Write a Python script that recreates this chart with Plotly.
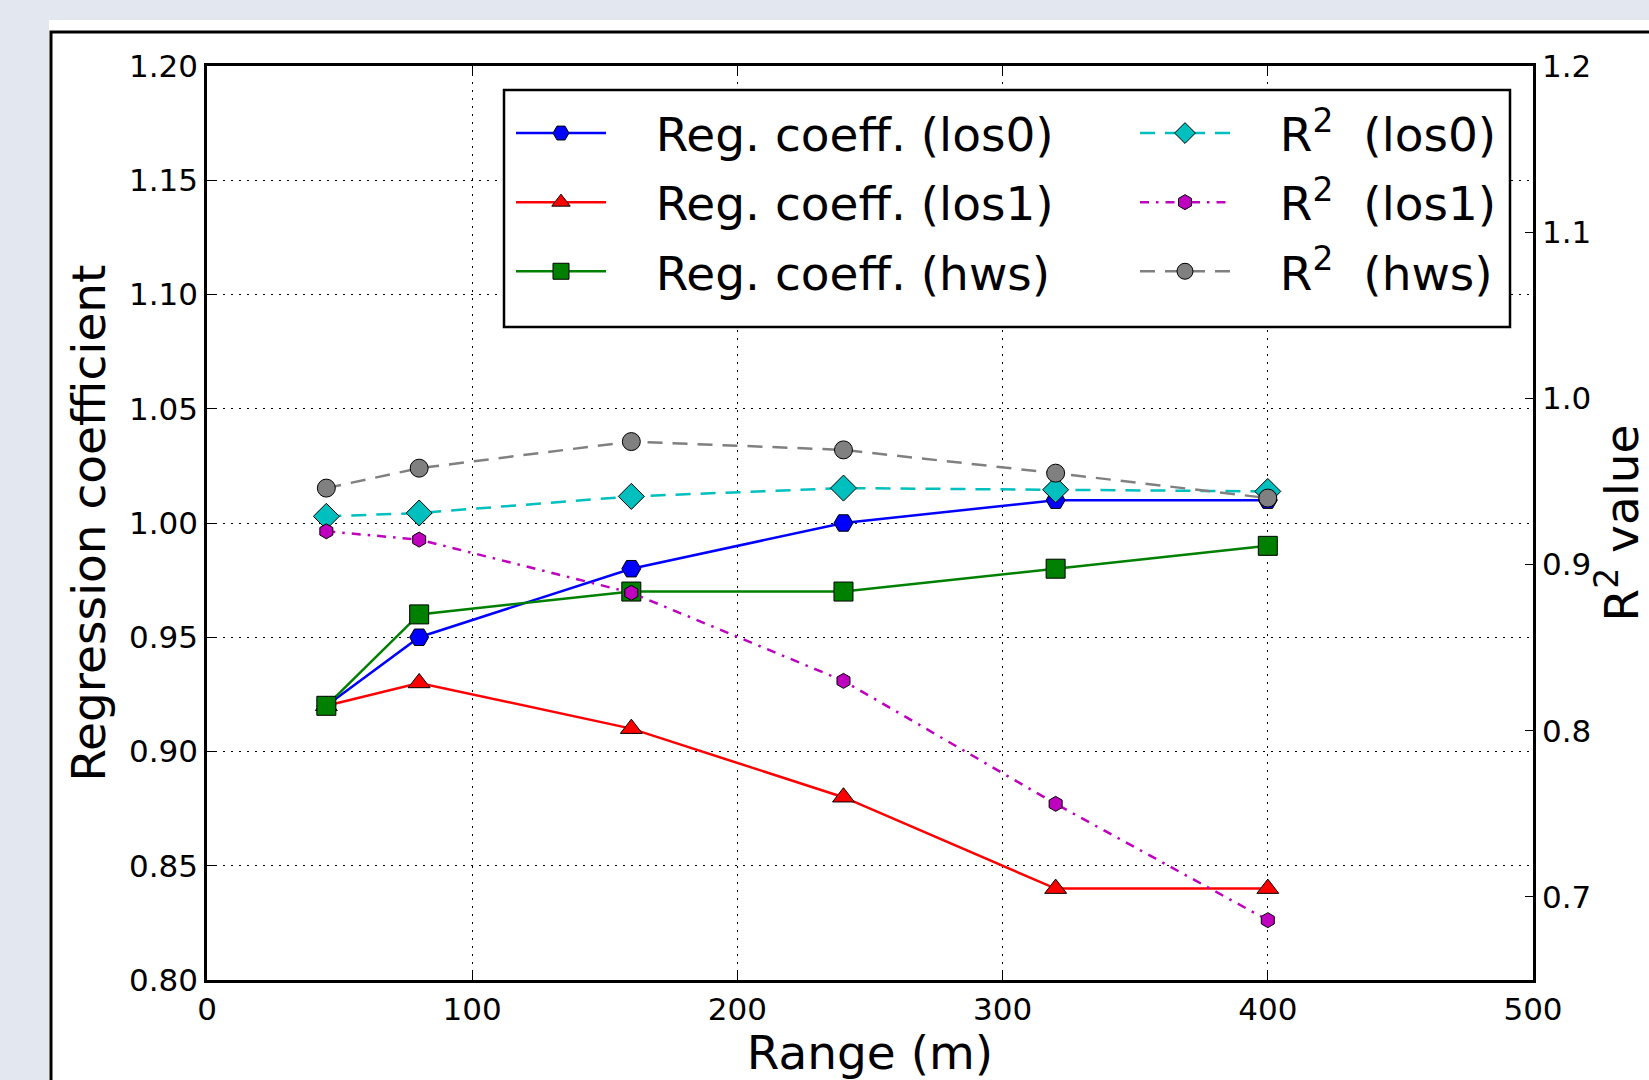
import plotly.graph_objects as go

# ---- data ----
ranges = [45, 80, 160, 240, 320, 400]
reg_los0 = [0.92, 0.95, 0.98, 1.00, 1.01, 1.01]
reg_los1 = [0.92, 0.93, 0.91, 0.88, 0.84, 0.84]
reg_hws = [0.92, 0.96, 0.97, 0.97, 0.98, 0.99]
r2_los0 = [0.929, 0.931, 0.941, 0.946, 0.945, 0.944]
r2_los1 = [0.920, 0.915, 0.883, 0.830, 0.756, 0.686]
r2_hws = [0.946, 0.958, 0.974, 0.969, 0.955, 0.940]

FONT = "DejaVu Sans"
W, H = 1649, 1080
L, R, T, B = 207, 116, 66, 100
PW, PH = W - L - R, H - T - B


def px(x):
    return (x - L) / PW


def py(y):
    return (H - B - y) / PH


fig = go.Figure()

mk = dict(line=dict(color="black", width=1))
pad = "\u00a0\u00a0\u00a0"

fig.add_trace(go.Scatter(x=ranges, y=reg_los0, name=pad + "Reg. coeff. (los0)", mode="lines+markers",
                         line=dict(color="#0000FF", width=2.5),
                         marker=dict(symbol="hexagon2", size=19, color="#0000FF", **mk),
                         legend="legend", legendgroup="a"))
fig.add_trace(go.Scatter(x=ranges, y=reg_los1, name=pad + "Reg. coeff. (los1)", mode="lines+markers",
                         line=dict(color="#FF0000", width=2.5),
                         marker=dict(symbol="triangle-up", size=19, color="#FF0000", **mk),
                         legend="legend", legendgroup="b"))
fig.add_trace(go.Scatter(x=ranges, y=reg_hws, name=pad + "Reg. coeff. (hws)", mode="lines+markers",
                         line=dict(color="#008000", width=2.5),
                         marker=dict(symbol="square", size=19, color="#008000", **mk),
                         legend="legend", legendgroup="c"))

fig.add_trace(go.Scatter(x=ranges, y=r2_los0, name=pad + "R<sup>2</sup>\u00a0 (los0)", mode="lines+markers",
                         yaxis="y2",
                         line=dict(color="#00BFBF", width=2.5, dash="15px,10px"),
                         marker=dict(symbol="diamond", size=20, color="#00BFBF", **mk),
                         legend="legend2", legendgroup="d"))
fig.add_trace(go.Scatter(x=ranges, y=r2_los1, name=pad + "R<sup>2</sup>\u00a0 (los1)", mode="lines+markers",
                         yaxis="y2",
                         line=dict(color="#BF00BF", width=2.5, dash="9px,7px,2.5px,7px"),
                         marker=dict(symbol="hexagon", size=15, color="#BF00BF", **mk),
                         legend="legend2", legendgroup="e"))
fig.add_trace(go.Scatter(x=ranges, y=r2_hws, name=pad + "R<sup>2</sup>\u00a0 (hws)", mode="lines+markers",
                         yaxis="y2",
                         line=dict(color="#808080", width=2.5, dash="15px,10px"),
                         marker=dict(symbol="circle", size=18, color="#808080", **mk),
                         legend="legend2", legendgroup="f"))

tickfont = dict(family=FONT, size=31, color="black")
titlefont = dict(family=FONT, size=47, color="black")

shapes = [
    # white figure area on the light background
    dict(type="rect", xref="paper", yref="paper", x0=px(49), x1=px(1700), y0=py(1100), y1=py(20),
         fillcolor="white", line=dict(width=0), layer="below"),
    dict(type="rect", xref="paper", yref="paper", x0=px(51), x1=px(1700), y0=py(1100), y1=py(32),
         fillcolor="rgba(0,0,0,0)", line=dict(color="black", width=3), layer="below"),
    # legend frame
    dict(type="rect", xref="paper", yref="paper", x0=px(504), x1=px(1510), y0=py(327), y1=py(90),
         fillcolor="white", line=dict(color="black", width=2.5), layer="above"),
]

legend_common = dict(font=dict(family=FONT, size=47, color="black"), bgcolor="rgba(0,0,0,0)",
                     borderwidth=0, xanchor="left", yanchor="top", orientation="v",
                     traceorder="grouped", tracegroupgap=5, itemwidth=90)

fig.update_layout(
    width=W, height=H,
    margin=dict(l=L, r=R, t=T, b=B, autoexpand=False),
    paper_bgcolor="#E3E7EF",
    plot_bgcolor="white",
    font=dict(family=FONT, color="black"),
    showlegend=True,
    legend=dict(x=px(511), y=py(96), **legend_common),
    legend2=dict(x=px(1135), y=py(96), **legend_common),
    shapes=shapes,
    xaxis=dict(range=[0, 500], tick0=0, dtick=100, ticks="inside", ticklen=8, tickwidth=1,
               tickcolor="black", showline=True, linecolor="black", linewidth=2.5, mirror="ticks",
               showgrid=True, gridcolor="black", gridwidth=1, griddash="2px,6px",
               zeroline=False, tickfont=tickfont,
               title=dict(text="Range (m)", font=titlefont, standoff=6)),
    yaxis=dict(range=[0.80, 1.20], tick0=0.80, dtick=0.05, tickformat=".2f", ticks="inside",
               ticklen=8, tickwidth=1, tickcolor="black", showline=True, linecolor="black",
               linewidth=2.5, mirror=True, showgrid=True, gridcolor="black", gridwidth=1,
               griddash="2px,6px", zeroline=False, tickfont=tickfont,
               title=dict(text="Regression coefficient", font=titlefont, standoff=9)),
    yaxis2=dict(range=[0.65, 1.20], tick0=0.7, dtick=0.1, tickformat=".1f", overlaying="y",
                side="right", ticks="inside", ticklen=8, tickwidth=1, tickcolor="black",
                showline=True, linecolor="black", linewidth=2.5, showgrid=False, zeroline=False,
                tickfont=tickfont,
                title=dict(text="R<sup>2</sup> value", font=titlefont, standoff=16)),
)

fig.write_html("out.html", config={"displayModeBar": False},
               post_script="document.body.style.margin='0';document.body.style.overflow='hidden';")
